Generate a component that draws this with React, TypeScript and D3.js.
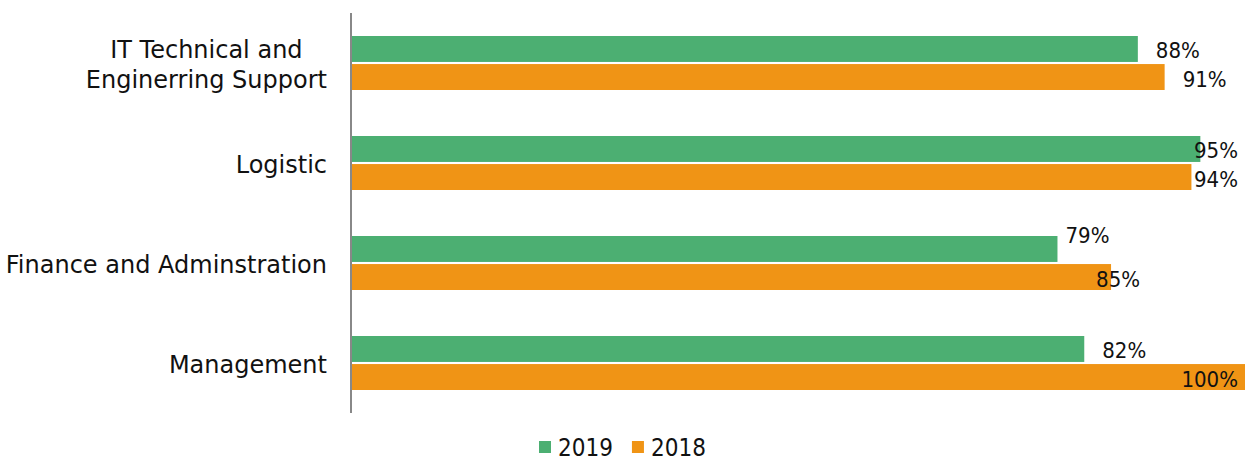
import { useEffect, useRef } from "react";
import * as d3 from "d3";

// chart values
const categories = ["IT Technical and\nEnginerring Support", "Logistic", "Finance and Adminstration", "Management"];
const seriesNames = ["2019", "2018"];
const values2019 = [88, 95, 79, 82];
const values2018 = [91, 94, 85, 100];

const colors: Record<string, string> = { "2019": "#4caf72", "2018": "#f09415" };

function App() {
  const ref = useRef<SVGSVGElement>(null);

  // Set up dimensional constants for svg
  const width = 1252,
    height = 461;
  const margin = { top: 13, right: 7, bottom: 48, left: 352 };
  const font = "'DejaVu Sans Condensed', 'DejaVu Sans', sans-serif";
  const catFont = "'DejaVu Sans', sans-serif";

  useEffect(() => {
    const svg = d3.select(ref.current);
    svg.selectAll("*").remove();

    const data = categories.map((c, i) => ({ category: c, "2019": values2019[i], "2018": values2018[i] }));

    const x = d3.scaleLinear().domain([0, 100]).range([margin.left, width - margin.right]);
    const y = d3.scaleBand().domain(categories).range([margin.top, height - margin.bottom]);
    // two bars in each band, about 54px together
    const ySub = d3.scaleBand().domain(seriesNames).range([-27, 27]).paddingInner(0.075);

    // hand nudges for labels the original placed off the default spot
    const labelNudge: Record<string, [number, number]> = {
      "Finance and Adminstration|2019": [-10, -15],
      "Finance and Adminstration|2018": [-33, 0],
    };

    const groups = svg
      .selectAll("g.group")
      .data(data)
      .enter()
      .append("g")
      .attr("class", "group")
      .attr("transform", (d) => "translate(0," + (y(d.category)! + y.bandwidth() / 2) + ")");

    groups
      .selectAll("rect")
      .data((d) => seriesNames.map((s) => ({ series: s, value: (d as any)[s] as number, category: d.category })))
      .enter()
      .append("rect")
      .attr("x", x(0))
      .attr("y", (d) => ySub(d.series)!)
      .attr("width", (d) => x(d.value) - x(0))
      .attr("height", ySub.bandwidth())
      .attr("fill", (d) => colors[d.series]);

    // value labels: just past the bar end, pulled back inside the plot if they run over
    const rightLimit = width - margin.right - 7;
    groups
      .selectAll("text.val")
      .data((d) => seriesNames.map((s) => ({ series: s, value: (d as any)[s] as number, category: d.category })))
      .enter()
      .append("text")
      .attr("class", "val")
      .attr("font-family", font)
      .attr("font-size", 22)
      .attr("fill", "#111")
      .attr("dominant-baseline", "central")
      .text((d) => d.value + "%")
      .each(function (d) {
        const t = d3.select(this);
        const nudge = labelNudge[d.category + "|" + d.series] || [0, 0];
        const w = (this as SVGTextElement).getComputedTextLength();
        let lx = x(d.value) + 18 + nudge[0];
        if (lx + w > rightLimit) lx = rightLimit - w;
        t.attr("x", lx).attr("y", ySub(d.series)! + ySub.bandwidth() / 2 + 2 + nudge[1]);
      });

    // category labels, lines centred on each other, block right aligned
    groups.each(function (d) {
      const lines = d.category.split("\n");
      const g = d3.select(this);
      const lineH = 30;
      const texts = lines.map((l, i) =>
        g
          .append("text")
          .attr("font-family", catFont)
          .attr("font-size", 24)
          .attr("fill", "#111")
          .attr("dominant-baseline", "central")
          .attr("text-anchor", "middle")
          .attr("y", (i - (lines.length - 1) / 2) * lineH + 2)
          .text(l)
      );
      const maxW = d3.max(texts, (t) => (t.node() as SVGTextElement).getComputedTextLength())!;
      texts.forEach((t) => t.attr("x", margin.left - 25 - maxW / 2));
    });

    // vertical axis line
    svg
      .append("line")
      .attr("x1", margin.left - 1)
      .attr("x2", margin.left - 1)
      .attr("y1", margin.top)
      .attr("y2", height - margin.bottom)
      .attr("stroke", "#888")
      .attr("stroke-width", 2);

    // legend
    const legend = svg.append("g").attr("transform", "translate(539,447)");
    let lx = 0;
    seriesNames.forEach((s) => {
      legend.append("rect").attr("x", lx).attr("y", -6).attr("width", 12).attr("height", 12).attr("fill", colors[s]);
      const t = legend
        .append("text")
        .attr("x", lx + 19)
        .attr("y", 1)
        .attr("font-family", font)
        .attr("font-size", 24)
        .attr("fill", "#111")
        .attr("dominant-baseline", "central")
        .text(s);
      lx += 19 + (t.node() as SVGTextElement).getComputedTextLength() + 19;
    });
  });

  return (
    <svg
      ref={ref}
      width={width}
      height={height}
      style={{ position: "absolute", left: 0, top: 0, background: "#fff" }}
    />
  );
}

export default App;
